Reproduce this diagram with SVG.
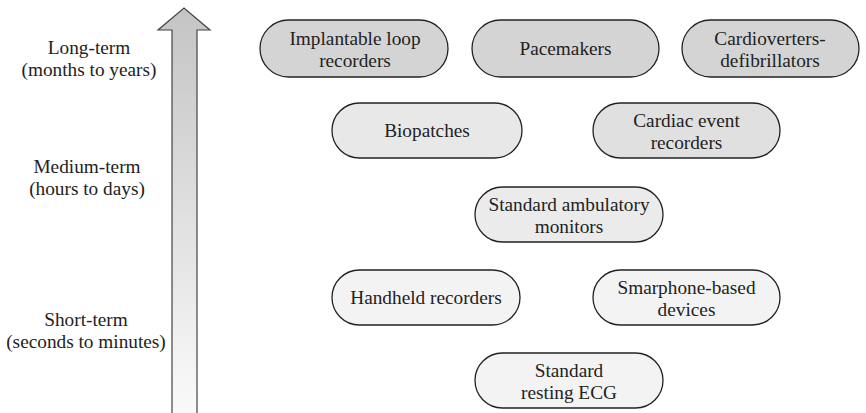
<svg xmlns="http://www.w3.org/2000/svg" width="866" height="413" viewBox="0 0 866 413">
<defs>
<linearGradient id="ag" x1="0" y1="0" x2="0" y2="1">
<stop offset="0" stop-color="#c4c4c4"/>
<stop offset="1" stop-color="#fafafa"/>
</linearGradient>
</defs>
<style>
text{font-size:19.3px;fill:#222;text-anchor:middle}
.n rect{stroke:#222;stroke-width:1.3}
.l1{fill:#d4d4d4}.l2{fill:#e8e8e8}.l3{fill:#e0e0e0}.m{fill:#ebebeb}.s{fill:#f3f3f3}
</style>
<rect width="866" height="413" fill="#fff"/>
<g font-family="Liberation Serif, Times New Roman, serif">
<g id="axis">
<path d="M172,413 L172,30 L158,30 L184,8 L210,30 L197,30 L197,413" fill="url(#ag)" stroke="#444" stroke-width="1.2"/>
<text x="89" y="54">Long-term</text>
<text x="89" y="76">(months to years)</text>
<text x="87" y="173">Medium-term</text>
<text x="87" y="195">(hours to days)</text>
<text x="86" y="326">Short-term</text>
<text x="86" y="348">(seconds to minutes)</text>
</g>
<g id="connectors"></g>
<g id="n1" class="n"><rect class="l1" x="260" y="20" width="188" height="57" rx="28.5"/><text x="355" y="45">Implantable loop</text><text x="355" y="67">recorders</text></g>
<g id="n2" class="n"><rect class="l1" x="472" y="20" width="187" height="57" rx="28.5"/><text x="565.5" y="55">Pacemakers</text></g>
<g id="n3" class="n"><rect class="l1" x="682" y="20" width="177" height="57" rx="28.5"/><text x="770" y="45">Cardioverters-</text><text x="770" y="67">defibrillators</text></g>
<g id="n4" class="n"><rect class="l2" x="332" y="103" width="190" height="55" rx="27.5"/><text x="427" y="137">Biopatches</text></g>
<g id="n5" class="n"><rect class="l3" x="593" y="103" width="187" height="55" rx="27.5"/><text x="686.5" y="127">Cardiac event</text><text x="686.5" y="149">recorders</text></g>
<g id="n6" class="n"><rect class="m" x="475" y="187" width="188" height="55" rx="27.5"/><text x="569" y="211">Standard ambulatory</text><text x="569" y="233">monitors</text></g>
<g id="n7" class="n"><rect class="s" x="332" y="270" width="188" height="55" rx="27.5"/><text x="426" y="304">Handheld recorders</text></g>
<g id="n8" class="n"><rect class="s" x="593" y="270" width="187" height="55" rx="27.5"/><text x="686.5" y="294">Smarphone-based</text><text x="686.5" y="316">devices</text></g>
<g id="n9" class="n"><rect class="s" x="475" y="353" width="188" height="55" rx="27.5"/><text x="569" y="377">Standard</text><text x="569" y="399">resting ECG</text></g>
</g>
</svg>
